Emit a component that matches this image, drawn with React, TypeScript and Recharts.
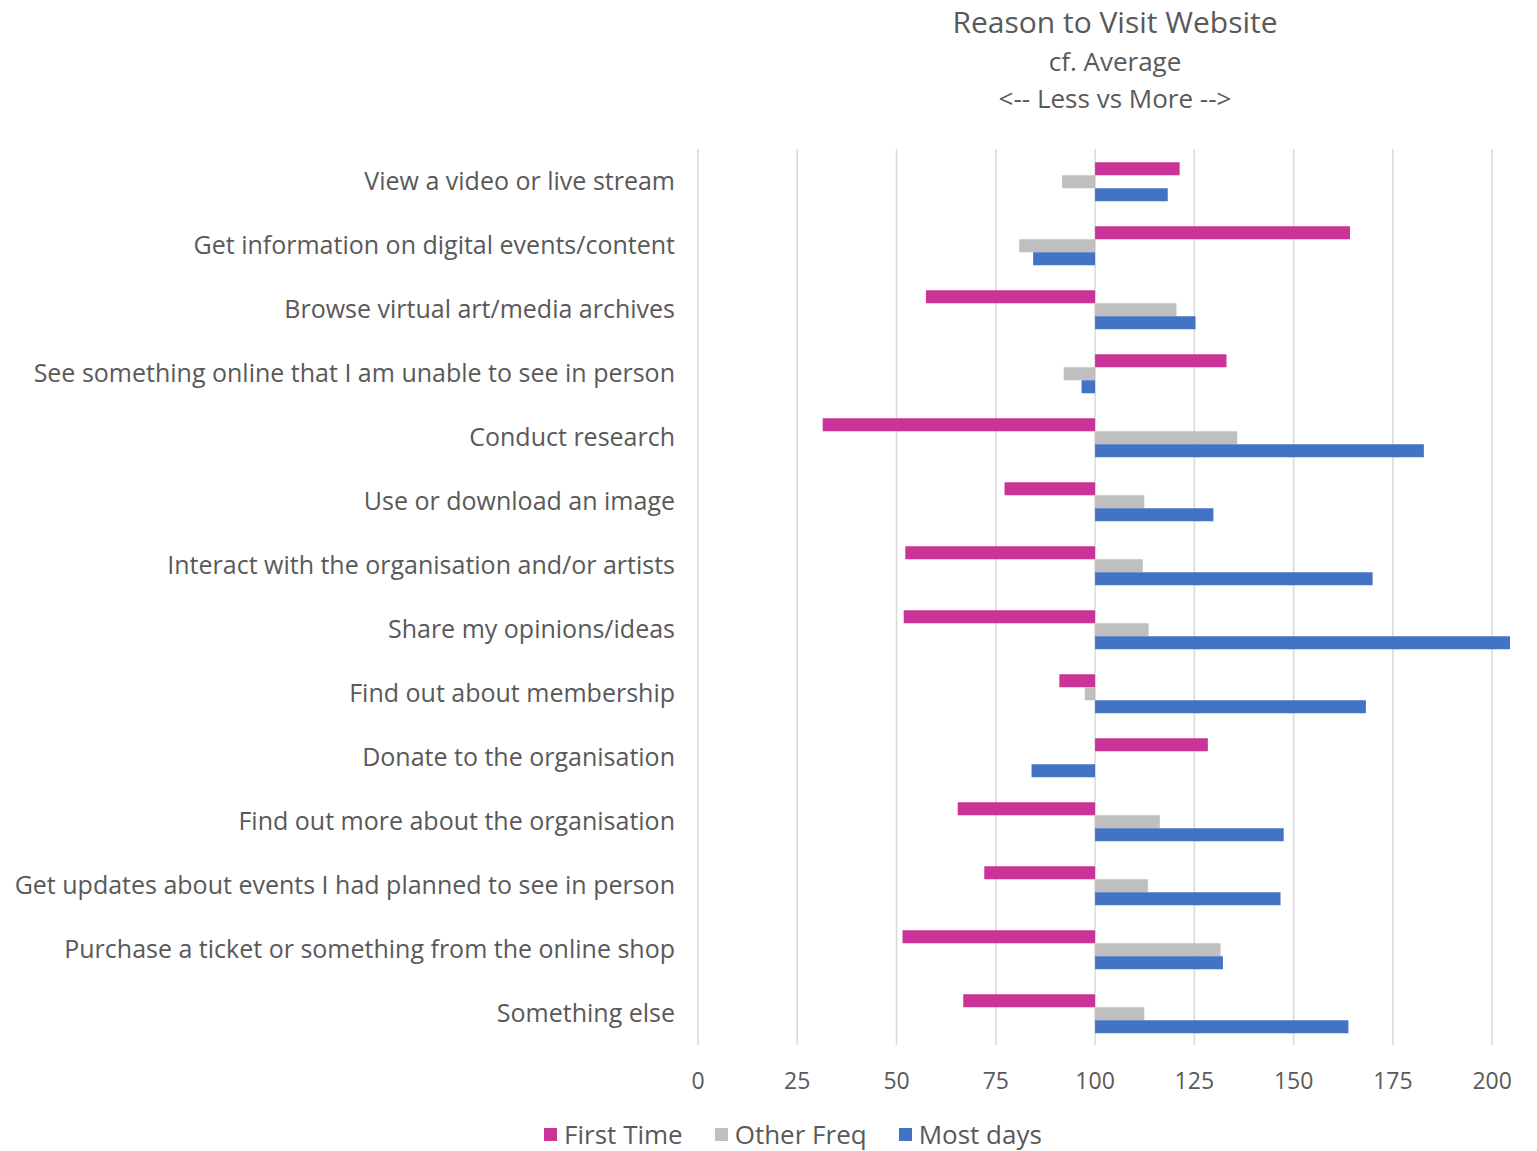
import { BarChart, Bar, XAxis, YAxis, CartesianGrid } from 'recharts';

const FONT = '"Open Sans", Lato, sans-serif';
const TEXT = '#595959';

// index = 100 means same as average; bars run from 100 out to the value
const BASELINE = 100;

const reasons = [
    'View a video or live stream',
    'Get information on digital events/content',
    'Browse virtual art/media archives',
    'See something online that I am unable to see in person',
    'Conduct research',
    'Use or download an image',
    'Interact with the organisation and/or artists',
    'Share my opinions/ideas',
    'Find out about membership',
    'Donate to the organisation',
    'Find out more about the organisation',
    'Get updates about events I had planned to see in person',
    'Purchase a ticket or something from the online shop',
    'Something else',
];

const firstTime = [121.3, 164.2, 57.4, 133.1, 31.4, 77.2, 52.2, 51.8, 91.0, 128.4, 65.4, 72.1, 51.5, 66.8];
const otherFreq = [91.7, 80.9, 120.5, 92.1, 135.8, 112.4, 112.0, 113.5, 97.4, null, 116.3, 113.3, 131.6, 112.4];
const mostDays = [118.3, 84.4, 125.3, 96.6, 182.8, 129.8, 169.9, 204.5, 168.2, 84.0, 147.5, 146.7, 132.2, 163.8];

const xTicks = [0, 25, 50, 75, 100, 125, 150, 175, 200];

const series = [
    { key: 'firstTime', label: 'First Time', color: '#CC3399' },
    { key: 'otherFreq', label: 'Other Freq', color: '#BFBFBF' },
    { key: 'mostDays', label: 'Most days', color: '#4472C4' },
];

const span = (v: number | null) => (v == null ? null : [BASELINE, v]);

const rows = reasons.map((name, i) => ({
    name,
    firstTime: span(firstTime[i]),
    otherFreq: span(otherFreq[i]),
    mostDays: span(mostDays[i]),
}));

function ChartLegend() {
    return (
        <div style={{
            position: 'absolute', left: 0, top: 1116, width: 1586, display: 'flex',
            justifyContent: 'center', fontFamily: FONT, fontSize: 26, color: TEXT,
        }}>
            {series.map(s => (
                <div key={s.key} style={{ display: 'flex', alignItems: 'center', margin: '0 16px' }}>
                    <span style={{ width: 13, height: 13, background: s.color, marginRight: 7, display: 'inline-block' }} />
                    <span>{s.label}</span>
                </div>
            ))}
        </div>
    );
}

export default function App() {
    return (
        <div style={{ position: 'absolute', left: 0, top: 0, width: 1537, height: 1151, background: '#fff' }}>
            <div style={{
                position: 'absolute', left: 1115 - 300, top: 1, width: 600, textAlign: 'center',
                fontFamily: FONT, color: TEXT,
            }}>
                <div style={{ fontSize: 30, lineHeight: '42px' }}>Reason to Visit Website</div>
                <div style={{ fontSize: 26, lineHeight: '37px' }}>cf. Average</div>
                <div style={{ fontSize: 26, lineHeight: '37px' }}>&lt;-- Less vs More --&gt;</div>
            </div>
            <BarChart
                width={1537}
                height={1151}
                data={rows}
                layout="vertical"
                margin={{ top: 149, right: 25, bottom: 66, left: 0 }}
                barCategoryGap="20.7%"
                barGap={0}
            >
                {/* vertical gridlines only at the labelled ticks */}
                <CartesianGrid horizontal={false} syncWithTicks stroke="#D9D9D9" strokeWidth={1.5} />
                <XAxis
                    type="number"
                    domain={[0, 205]}
                    ticks={xTicks}
                    interval={0}
                    axisLine={false}
                    tickLine={false}
                    tickSize={0}
                    tickMargin={28}
                    height={40}
                    tick={{ fill: TEXT, fontSize: 23, fontFamily: FONT }}
                />
                <YAxis
                    type="category"
                    dataKey="name"
                    width={698}
                    axisLine={false}
                    tickLine={false}
                    tickSize={0}
                    tickMargin={23}
                    interval={0}
                    tick={{ fill: TEXT, fontSize: 25, fontFamily: FONT }}
                />
                {series.map(s => (
                    <Bar key={s.key} dataKey={s.key} name={s.label} fill={s.color} isAnimationActive={false} />
                ))}
            </BarChart>
            <ChartLegend />
        </div>
    );
}
